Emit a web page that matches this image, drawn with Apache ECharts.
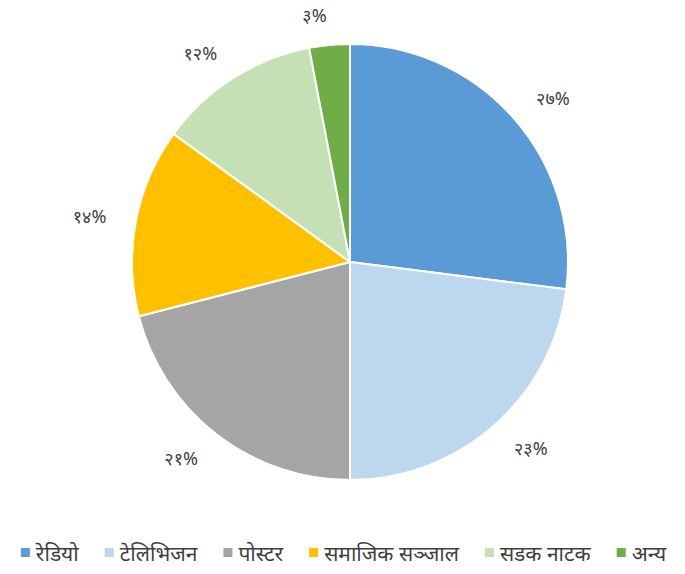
<!DOCTYPE html>
<html>
<head>
<meta charset="utf-8">
<script src="https://cdn.jsdelivr.net/npm/echarts@6/dist/echarts.min.js"></script>
<style>
  html, body { margin: 0; padding: 0; background: #fff; }
  #chart { width: 685px; height: 574px; }
</style>
</head>
<body>
<div id="chart"></div>
<script>
var categories = ['रेडियो', 'टेलिभिजन', 'पोस्टर', 'समाजिक सञ्जाल', 'सडक नाटक', 'अन्य'];
var values = [27, 23, 21, 14, 12, 3];
var valueLabels = ['२७%', '२३%', '२१%', '१४%', '१२%', '३%'];
var colors = ['#5b9bd5', '#bdd7ee', '#a5a5a5', '#ffc000', '#c5e0b4', '#70ad47'];

var chart = echarts.init(document.getElementById('chart'), null, { renderer: 'svg' });
var fontFam = '"Noto Sans", "Noto Sans Devanagari", "Lohit Devanagari", sans-serif';

chart.setOption({
  animation: false,
  color: colors,
  legend: {
    bottom: 6,
    left: 'center',
    itemWidth: 11,
    itemHeight: 11,
    itemGap: 24,
    icon: 'rect',
    textStyle: { color: '#404040', fontSize: 21, fontFamily: fontFam },
    data: categories
  },
  series: [{
    type: 'pie',
    radius: 218,
    center: [350, 262],
    startAngle: 90,
    clockwise: true,
    itemStyle: { borderColor: '#fff', borderWidth: 2 },
    label: {
      show: true,
      position: 'outside',
      color: '#404040',
      fontSize: 18,
      fontFamily: fontFam,
      distanceToLabelLine: 0,
      formatter: function (p) { return valueLabels[p.dataIndex]; }
    },
    labelLine: { show: false, length: 30, length2: 0 },
    data: categories.map(function (c, i) { return { name: c, value: values[i] }; })
  }]
});
window.addEventListener('resize', function () { chart.resize(); });
</script>
</body>
</html>
